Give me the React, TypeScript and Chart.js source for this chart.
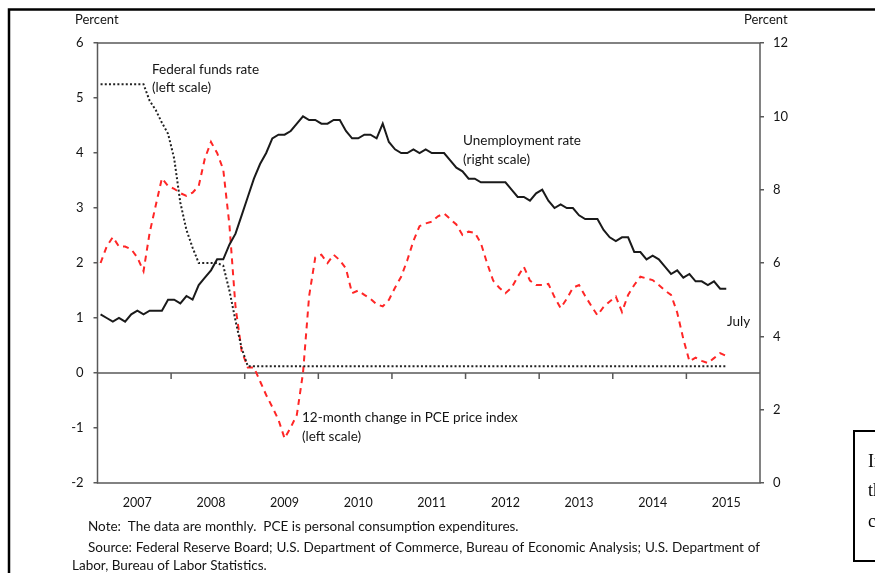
import React, { useEffect, useRef } from "react";
import { Chart, registerables } from "chart.js";
Chart.register(...registerables);

// ---- Data (monthly, Jan 2007 .. Jul 2015) ----
const years = ["2007", "2008", "2009", "2010", "2011", "2012", "2013", "2014", "2015"];
const leftTicks = [6, 5, 4, 3, 2, 1, 0, -1, -2];
const rightTicks = [12, 10, 8, 6, 4, 2, 0];

const unemployment = [
  4.6, 4.5, 4.4, 4.5, 4.4, 4.6, 4.7, 4.6, 4.7, 4.7, 4.7, 5.0,
  5.0, 4.9, 5.1, 5.0, 5.4, 5.6, 5.8, 6.1, 6.1, 6.5, 6.8, 7.3,
  7.8, 8.3, 8.7, 9.0, 9.4, 9.5, 9.5, 9.6, 9.8, 10.0, 9.9, 9.9,
  9.8, 9.8, 9.9, 9.9, 9.6, 9.4, 9.4, 9.5, 9.5, 9.4, 9.8, 9.3,
  9.1, 9.0, 9.0, 9.1, 9.0, 9.1, 9.0, 9.0, 9.0, 8.8, 8.6, 8.5,
  8.3, 8.3, 8.2, 8.2, 8.2, 8.2, 8.2, 8.0, 7.8, 7.8, 7.7, 7.9,
  8.0, 7.7, 7.5, 7.6, 7.5, 7.5, 7.3, 7.2, 7.2, 7.2, 6.9, 6.7,
  6.6, 6.7, 6.7, 6.3, 6.3, 6.1, 6.2, 6.1, 5.9, 5.7, 5.8, 5.6,
  5.7, 5.5, 5.5, 5.4, 5.5, 5.3, 5.3,
];

const pce = [
  2.0, 2.3, 2.47, 2.3, 2.3, 2.25, 2.1, 1.85, 2.55, 3.05, 3.54, 3.4,
  3.35, 3.27, 3.22, 3.28, 3.4, 3.9, 4.2, 4.0, 3.7, 2.7, 1.2, 0.4,
  0.1, 0.1, -0.15, -0.4, -0.62, -0.85, -1.19, -0.99, -0.76, 0.0, 1.4, 2.1,
  2.15, 2.0, 2.15, 2.05, 1.9, 1.45, 1.5, 1.42, 1.35, 1.25, 1.21, 1.33,
  1.55, 1.75, 2.05, 2.4, 2.67, 2.72, 2.75, 2.85, 2.9, 2.8, 2.7, 2.51,
  2.57, 2.55, 2.36, 2.0, 1.68, 1.55, 1.45, 1.55, 1.75, 1.93, 1.68, 1.6,
  1.6, 1.62, 1.38, 1.18, 1.35, 1.55, 1.6, 1.4, 1.22, 1.05, 1.2, 1.3,
  1.39, 1.11, 1.42, 1.6, 1.75, 1.72, 1.69, 1.6, 1.5, 1.42, 1.1, 0.62,
  0.21, 0.28, 0.22, 0.18, 0.27, 0.36, 0.31,
];

const fedFunds = [
  5.25, 5.25, 5.25, 5.25, 5.25, 5.25, 5.25, 5.25, 4.95, 4.78, 4.55, 4.35,
  3.9, 3.1, 2.6, 2.28, 2.0, 2.0, 2.0, 2.0, 1.95, 1.5, 0.95, 0.45,
  0.125, 0.125, 0.125, 0.125, 0.125, 0.125, 0.125, 0.125, 0.125, 0.125, 0.125, 0.125,
  0.125, 0.125, 0.125, 0.125, 0.125, 0.125, 0.125, 0.125, 0.125, 0.125, 0.125, 0.125,
  0.125, 0.125, 0.125, 0.125, 0.125, 0.125, 0.125, 0.125, 0.125, 0.125, 0.125, 0.125,
  0.125, 0.125, 0.125, 0.125, 0.125, 0.125, 0.125, 0.125, 0.125, 0.125, 0.125, 0.125,
  0.125, 0.125, 0.125, 0.125, 0.125, 0.125, 0.125, 0.125, 0.125, 0.125, 0.125, 0.125,
  0.125, 0.125, 0.125, 0.125, 0.125, 0.125, 0.125, 0.125, 0.125, 0.125, 0.125, 0.125,
  0.125, 0.125, 0.125, 0.125, 0.125, 0.125, 0.125,
];

const noteText = "Note:  The data are monthly.  PCE is personal consumption expenditures.";
const sourceText =
  "Source:  Federal Reserve Board; U.S. Department of Commerce, Bureau of Economic Analysis; U.S. Department of";
const sourceText2 = "Labor, Bureau of Labor Statistics.";

const FONT = "Lato, 'Open Sans', sans-serif";
const TEXT = "#141414";
const AXIS = "#595959";

const toPoints = (arr: number[]) => arr.map((v, i) => ({ x: i + 0.5, y: v }));

const decorPlugin = {
  id: "decor",
  beforeDraw(chart: any) {
    const ctx = chart.ctx;
    ctx.save();
    ctx.fillStyle = "#fff";
    ctx.fillRect(0, 0, chart.width, chart.height);
    ctx.restore();
  },
  beforeDatasetsDraw(chart: any) {
    const ctx = chart.ctx;
    const { left, right, top, bottom } = chart.chartArea;
    const xs = chart.scales.x;
    const ys = chart.scales.y;
    ctx.save();
    ctx.strokeStyle = AXIS;
    ctx.lineWidth = 1.5;
    ctx.strokeRect(left, top, right - left, bottom - top);
    const y0 = ys.getPixelForValue(0);
    ctx.beginPath();
    ctx.moveTo(left, y0);
    ctx.lineTo(right, y0);
    for (let k = 1; k < years.length; k++) {
      const px = xs.getPixelForValue(12 * k);
      ctx.moveTo(px, y0);
      ctx.lineTo(px, y0 + 6);
    }
    ctx.stroke();
    ctx.restore();
  },
  afterDraw(chart: any) {
    const ctx = chart.ctx;
    ctx.save();
    ctx.fillStyle = TEXT;
    ctx.textBaseline = "middle";
    ctx.font = `13px ${FONT}`;
    ctx.textAlign = "left";
    ctx.fillText("Percent", 75, 20);
    ctx.fillText("Percent", 744, 20);

    ctx.font = `13.5px ${FONT}`;
    ctx.fillText("Federal funds rate", 152, 70);
    ctx.fillText("(left scale)", 152, 88);
    ctx.fillText("Unemployment rate", 463, 141);
    ctx.fillText("(right scale)", 463, 160);
    ctx.fillText("12-month change in PCE price index", 302, 418);
    ctx.fillText("(left scale)", 302, 437);
    ctx.fillText("July", 727, 322);

    ctx.font = `13.5px ${FONT}`;
    ctx.fillText(noteText, 88, 527);
    // justified source line
    const words = sourceText.split(/\s+/);
    const widths = words.map((w: string) => ctx.measureText(w).width);
    const total = widths.reduce((a: number, b: number) => a + b, 0);
    const gap = (760 - 88 - total) / (words.length - 1);
    let x = 88;
    words.forEach((w: string, i: number) => {
      ctx.fillText(w, x, 548);
      x += widths[i] + gap;
    });
    ctx.fillText(sourceText2, 72, 566);

    // outer frame
    ctx.strokeStyle = "#000";
    ctx.lineWidth = 2.5;
    ctx.beginPath();
    ctx.moveTo(9, 600);
    ctx.lineTo(9, 9.5);
    ctx.lineTo(900, 9.5);
    ctx.stroke();

    // side box (cut off at right edge)
    ctx.lineWidth = 2;
    ctx.beginPath();
    ctx.moveTo(900, 431);
    ctx.lineTo(854, 431);
    ctx.lineTo(854, 561);
    ctx.lineTo(900, 561);
    ctx.stroke();
    ctx.fillStyle = "#000";
    ctx.font = "18px 'Liberation Serif', serif";
    ctx.fillText("In", 868, 462);
    ctx.fillText("th", 868, 491);
    ctx.fillText("co", 868, 522);
    ctx.restore();
  },
};

export default function App() {
  const ref = useRef<HTMLCanvasElement>(null);
  useEffect(() => {
    const chart = new Chart(ref.current as HTMLCanvasElement, {
      type: "line",
      data: {
        datasets: [
          {
            label: "Unemployment rate",
            data: toPoints(unemployment),
            yAxisID: "y1",
            borderColor: "#1a1a1a",
            borderWidth: 2,
            pointRadius: 0,
            tension: 0,
          },
          {
            label: "Federal funds rate",
            data: toPoints(fedFunds),
            yAxisID: "y",
            borderColor: "#222",
            borderWidth: 2,
            borderDash: [2, 2.2],
            pointRadius: 0,
            tension: 0,
          },
          {
            label: "12-month change in PCE price index",
            data: toPoints(pce),
            yAxisID: "y",
            borderColor: "#ff2626",
            borderWidth: 2,
            borderDash: [6, 5],
            pointRadius: 0,
            tension: 0,
          },
        ],
      },
      options: {
        animation: false,
        responsive: false,
        maintainAspectRatio: false,
        layout: { padding: { left: 0, right: 0, top: 43, bottom: 0 } },
        plugins: { legend: { display: false }, tooltip: { enabled: false } },
        scales: {
          x: {
            type: "linear",
            min: 0,
            max: 108,
            position: "bottom",
            afterBuildTicks: (s: any) => {
              s.ticks = years.map((_, k) => ({ value: 6.5 + 12 * k }));
            },
            afterFit: (s: any) => {
              s.height = 90;
            },
            ticks: {
              autoSkip: false,
              maxRotation: 0,
              padding: 12,
              color: TEXT,
              font: { family: FONT, size: 12.5 },
              callback: (v: any) => years[Math.round((Number(v) - 6.5) / 12)],
            },
            grid: { display: false, drawTicks: false },
            border: { display: false },
          },
          y: {
            position: "left",
            min: -2,
            max: 6,
            afterBuildTicks: (s: any) => {
              s.ticks = leftTicks.map((v) => ({ value: v }));
            },
            afterFit: (s: any) => {
              s.width = 97.5;
            },
            ticks: {
              padding: 10,
              color: TEXT,
              font: { family: FONT, size: 13 },
              callback: (v: any) => String(v),
            },
            grid: { drawOnChartArea: false, drawTicks: true, tickLength: 4, color: AXIS, lineWidth: 1.5 },
            border: { display: false },
          },
          y1: {
            position: "right",
            min: 0,
            max: 12,
            afterBuildTicks: (s: any) => {
              s.ticks = rightTicks.map((v) => ({ value: v }));
            },
            afterFit: (s: any) => {
              s.width = 115;
            },
            ticks: {
              padding: 9,
              color: TEXT,
              font: { family: FONT, size: 13 },
              callback: (v: any) => String(v),
            },
            grid: { drawOnChartArea: false, drawTicks: true, tickLength: 4, color: AXIS, lineWidth: 1.5 },
            border: { display: false },
          },
        },
      },
      plugins: [decorPlugin],
    } as any);
    return () => chart.destroy();
  }, []);
  return (
    <canvas
      ref={ref}
      width={875}
      height={573}
      style={{ position: "absolute", left: 0, top: 0, width: 875, height: 573 }}
    />
  );
}
